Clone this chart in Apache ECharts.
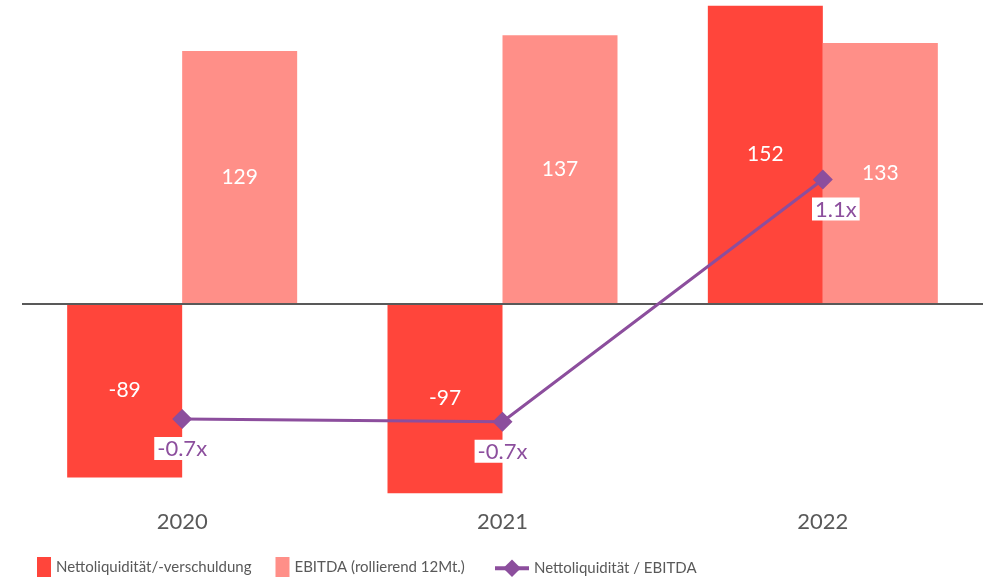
<!DOCTYPE html>
<html>
<head>
<meta charset="utf-8">
<script src="https://cdn.jsdelivr.net/npm/echarts@6/dist/echarts.min.js"></script>
<style>
  html, body { margin: 0; padding: 0; background: #ffffff; }
  #chart { width: 995px; height: 585px; }
</style>
</head>
<body>
<div id="chart"></div>
<script>
const years = ["2020", "2021", "2022"];
const nettoLiquiditaet = [-89, -97, 152];
const ebitda = [129, 137, 133];
const ratio = [-0.69, -0.71, 1.14];

const nameNetto = "Nettoliquidität/-verschuldung";
const nameEbitda = "EBITDA (rollierend 12Mt.)";
const nameRatio = "Nettoliquidität / EBITDA";

const myChart = echarts.init(document.getElementById("chart"));

const legendText = { fontFamily: "Lato, sans-serif", fontSize: 15, color: "#595959" };

const option = {
  animation: false,
  textStyle: { fontFamily: "Lato, sans-serif" },
  grid: { left: 22, right: 12, top: 0, bottom: 86 },
  legend: [
    {
      data: [nameNetto, nameEbitda],
      icon: "rect",
      left: 32,
      bottom: 3,
      itemWidth: 14,
      itemHeight: 20,
      itemGap: 24,
      textStyle: legendText,
    },
    {
      data: [nameRatio],
      left: 488,
      bottom: 3,
      itemWidth: 34,
      itemHeight: 22,
      lineStyle: { width: 4 },
      textStyle: legendText,
    },
  ],
  xAxis: {
    type: "category",
    data: years,
    axisLine: { show: false },
    axisTick: { show: false },
    axisLabel: { color: "#595959", fontSize: 22, margin: 12 },
  },
  yAxis: [
    { type: "value", min: -100, max: 155, show: false, splitLine: { show: false } },
    { type: "value", min: -1.3, max: 2.51, show: false, splitLine: { show: false } },
  ],
  series: [
    {
      name: nameNetto,
      type: "bar",
      data: nettoLiquiditaet,
      barWidth: 115,
      barGap: "0%",
      itemStyle: { color: "#FF453B" },
      label: { show: true, position: "inside", color: "#ffffff", fontSize: 21 },
      markLine: {
        silent: true,
        symbol: "none",
        label: { show: false },
        lineStyle: { color: "#595959", width: 2, type: "solid" },
        data: [{ yAxis: 0 }],
      },
    },
    {
      name: nameEbitda,
      type: "bar",
      data: ebitda,
      barWidth: 115,
      barGap: "0%",
      itemStyle: { color: "#FF8F88" },
      label: { show: true, position: "inside", color: "#ffffff", fontSize: 21 },
    },
    {
      name: nameRatio,
      type: "line",
      yAxisIndex: 1,
      data: ratio.map((v, i) => i === 2 ? { value: v, label: { offset: [13, 0] } } : v),
      symbol: "diamond",
      symbolSize: 20,
      itemStyle: { color: "#8C4E9D" },
      lineStyle: { color: "#8C4E9D", width: 3 },
      label: {
        show: true,
        position: "bottom",
        distance: 8,
        color: "#8C4E9D",
        fontSize: 22,
        backgroundColor: "#ffffff",
        padding: [1, 3, 0, 3],
        formatter: (p) => p.value.toFixed(1) + "x",
      },
      z: 5,
    },
  ],
};

myChart.setOption(option);
window.addEventListener("resize", () => myChart.resize());
</script>
</body>
</html>
